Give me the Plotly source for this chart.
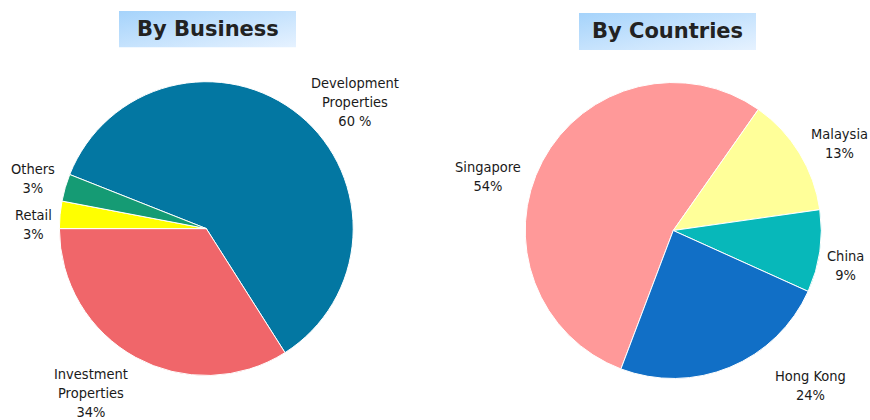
import base64
import plotly.graph_objects as go

# ---- data ----
business_labels = ["Development<br>Properties", "Investment<br>Properties", "Retail", "Others"]
business_values = [60, 34, 3, 3]
business_pct_text = ["60 %", "34%", "3%", "3%"]

country_labels = ["Singapore", "Malaysia", "China", "Hong Kong"]
country_values = [54, 13, 9, 24]
country_pct_text = ["54%", "13%", "9%", "24%"]

titles = ["By Business", "By Countries"]

# ---- styles / layout ----
business_colors = ["#0377A2", "#F0666A", "#FFFF00", "#159B74"]
country_colors = ["#FF9999", "#FFFF99", "#07B8BA", "#116FC6"]

W, H = 870, 420
FONT = "DejaVu Sans Condensed, DejaVu Sans"
TITLE_FONT = "DejaVu Sans"

# label centres in pixels (layout only)
business_label_pos = [(355, 102), (91, 393), (33, 224), (33, 178)]
country_label_pos = [(488, 176), (839, 143), (845, 265), (810, 385)]

def px_x(x):
    return x / W

def px_y(y):
    return 1 - y / H

fig = go.Figure()
fig.add_trace(go.Pie(
    labels=business_labels, values=business_values, sort=False,
    direction="clockwise", rotation=-68.4,
    marker=dict(colors=business_colors, line=dict(color="white", width=1)),
    textinfo="none", hoverinfo="skip", showlegend=False,
    domain=dict(x=[px_x(59.3), px_x(353.3)], y=[px_y(375.5), px_y(81.7)]),
))
fig.add_trace(go.Pie(
    labels=country_labels, values=country_values, sort=False,
    direction="clockwise", rotation=200.7,
    marker=dict(colors=country_colors, line=dict(color="white", width=1)),
    textinfo="none", hoverinfo="skip", showlegend=False,
    domain=dict(x=[px_x(525), px_x(821.5)], y=[px_y(378.5), px_y(82.5)]),
))

annotations = []
for lab, pct, (x, y) in zip(business_labels, business_pct_text, business_label_pos):
    annotations.append(dict(text=f"{lab}<br>{pct}", x=px_x(x), y=px_y(y),
                            xref="paper", yref="paper", showarrow=False,
                            xanchor="center", yanchor="middle", align="center",
                            font=dict(family=FONT, size=14.5, color="#1a1a1a")))
for lab, pct, (x, y) in zip(country_labels, country_pct_text, country_label_pos):
    annotations.append(dict(text=f"{lab}<br>{pct}", x=px_x(x), y=px_y(y),
                            xref="paper", yref="paper", showarrow=False,
                            xanchor="center", yanchor="middle", align="center",
                            font=dict(family=FONT, size=14.5, color="#1a1a1a")))

# gradient title boxes
svg = ('<svg xmlns="http://www.w3.org/2000/svg" width="200" height="40" preserveAspectRatio="none">'
       '<defs><linearGradient id="g" x1="0" y1="0" x2="1" y2="1">'
       '<stop offset="0" stop-color="#A5D3FB"/><stop offset="1" stop-color="#E6F2FF"/>'
       '</linearGradient></defs><rect width="200" height="40" fill="url(#g)"/></svg>')
src = "data:image/svg+xml;base64," + base64.b64encode(svg.encode()).decode()

title_boxes = [(119, 11, 296, 47.5), (579, 13, 756, 50)]
images = []
for (x0, y0, x1, y1), t in zip(title_boxes, titles):
    images.append(dict(source=src, xref="paper", yref="paper",
                       x=px_x(x0), y=px_y(y0), sizex=(x1 - x0) / W, sizey=(y1 - y0) / H,
                       xanchor="left", yanchor="top", sizing="stretch", layer="below"))
    annotations.append(dict(text=f"<b>{t}</b>", x=px_x((x0 + x1) / 2), y=px_y((y0 + y1) / 2),
                            xref="paper", yref="paper", showarrow=False,
                            xanchor="center", yanchor="middle",
                            font=dict(family=TITLE_FONT, size=21, color="#222222")))

fig.update_layout(
    width=W, height=H, margin=dict(l=0, r=0, t=0, b=0),
    paper_bgcolor="white", plot_bgcolor="white",
    annotations=annotations, images=images,
)
fig.write_html("out.html")
